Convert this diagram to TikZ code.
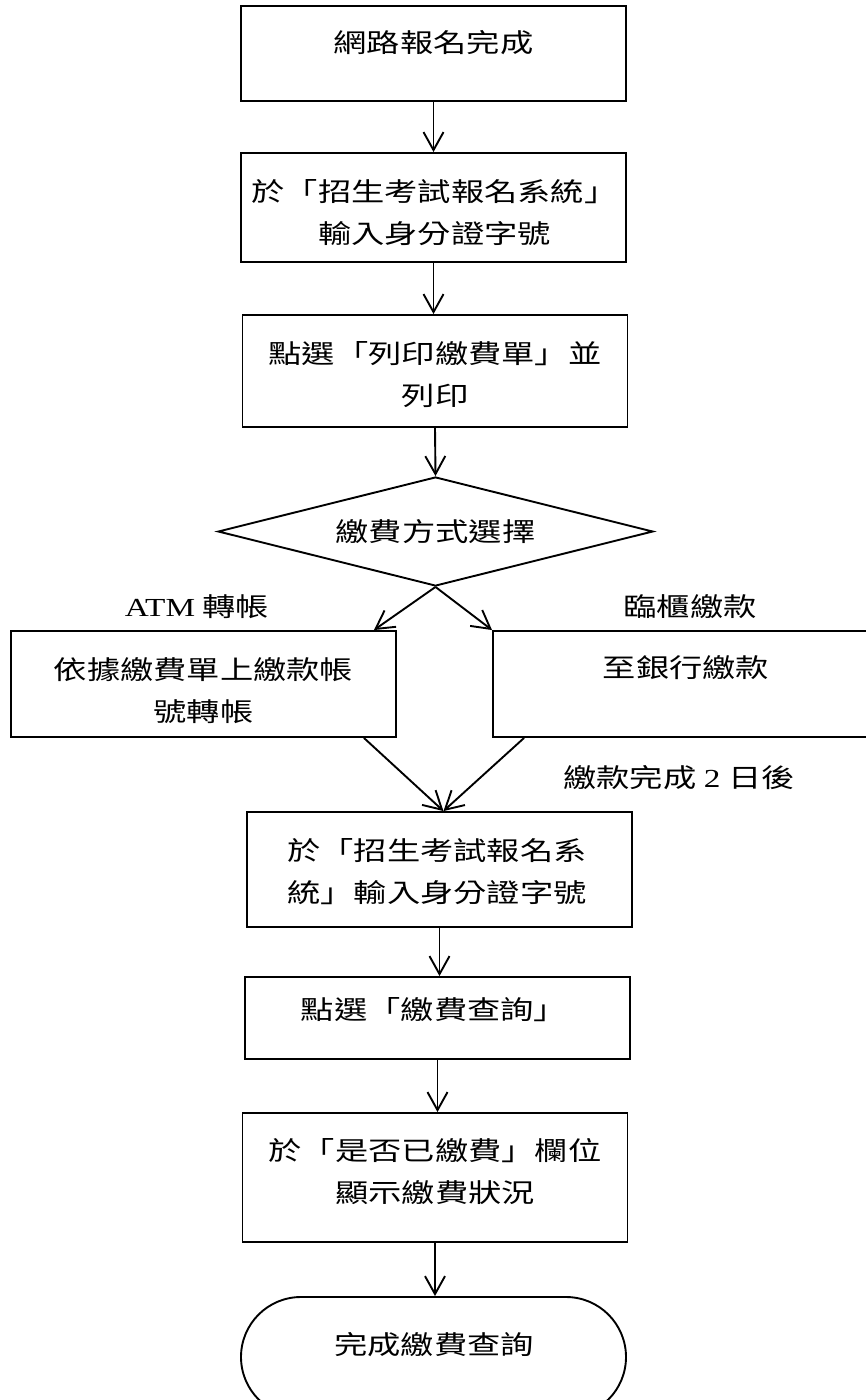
\documentclass[tikz,border=0pt]{standalone}
\usepackage{fontspec}
\setmainfont{Noto Sans CJK TC}[FakeStretch=1.28]
\newfontfamily\lat{Liberation Serif}[FakeStretch=1.28]
\usetikzlibrary{shapes.geometric,shapes.misc,arrows.meta,calc}
\tikzset{
  box/.style={draw, rectangle, line width=1.9pt, minimum width=385pt, inner sep=0pt},
  txt/.style={font=\fontsize{26}{42}\selectfont, align=center, inner sep=0pt},
  arr/.style={line width=1.9pt, -{Straight Barb[length=18pt,width=20pt,line width=1.9pt]}}
}
\begin{document}
\begin{tikzpicture}[x=1pt,y=-1pt]
\useasboundingbox (0,0) rectangle (866,1400);
\fill[white] (0,0) rectangle (866,1400);
\clip (0,0) rectangle (866,1400);

\node[box, minimum height=95pt] (b1) at (433.5,53.5) {};
\node[txt] (t1) at (433.5,43) {網路報名完成};

\node[box, minimum height=109pt] (b2) at (433.5,207.5) {};
\node[txt] (t2) at (434.5,212.5) {於「招生考試報名系統」\\輸入身分證字號};

\node[box, minimum height=112pt] (b3) at (435,371) {};
\node[txt] (t3) at (435,375) {點選「列印繳費單」並\\列印};

\node[diamond, draw, line width=1.9pt, minimum width=435pt, minimum height=109pt, aspect=4, txt] (d) at (435.5,531.5) {繳費方式選擇};

\node[box, minimum height=106pt] (L) at (203.5,684) {};
\node[txt] (tL) at (203.5,691) {依據繳費單上繳款帳\\號轉帳};

\node[box, minimum height=106pt] (R) at (685.5,684) {};
\node[txt] (tR) at (686,668) {至銀行繳款};

\node[txt] (la) at (197,607) {{\lat ATM} 轉帳};
\node[txt] (lb) at (690,607) {臨櫃繳款};
\node[txt] (lc) at (679,778) {繳款完成 {\lat 2} 日後};

\node[box, minimum height=115pt] (b4) at (439.5,869.5) {};
\node[txt] (t4) at (437,872) {於「招生考試報名系\\統」輸入身分證字號};

\node[box, minimum height=82pt] (b5) at (437.5,1018) {};
\node[txt] (t5) at (434,1010) {點選「繳費查詢」};

\node[box, minimum height=129pt] (b6) at (435,1177.5) {};
\node[txt] (t6) at (435,1171.5) {於「是否已繳費」欄位\\顯示繳費狀況};

\node[rounded rectangle, draw, line width=1.9pt, minimum width=385pt, minimum height=120pt, inner sep=0pt] (T) at (433.5,1357) {};
\node[txt] (tT) at (434,1345) {完成繳費查詢};

\draw[arr] (b1.south) -- (b2.north);
\draw[arr] (b2.south) -- (b2.south |- b3.north);
\draw[arr] (b3.south) -- (d.north);
\draw[arr] (d.south) -- ($(L.north east)+(-23,0)$);
\draw[arr] (d.south) -- (R.north west);
\coordinate (m) at ($(b4.north)+(4,0)$);
\draw[arr] ($(L.south east)+(-33,0)$) -- (m);
\draw[arr] ($(R.south west)+(32,0)$) -- (m);
\draw[arr] (b4.south) -- (b4.south |- b5.north);
\draw[arr] (b5.south) -- (b5.south |- b6.north);
\draw[arr] (b6.south) -- (b6.south |- T.north);
\end{tikzpicture}
\end{document}
